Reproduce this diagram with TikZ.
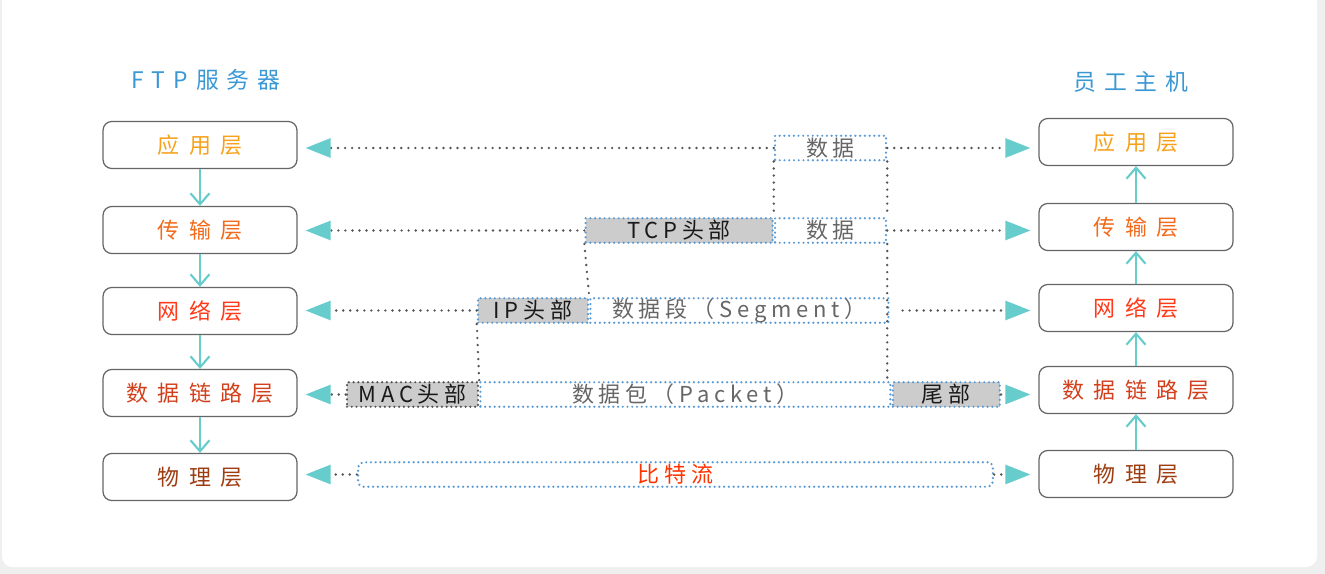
\documentclass[tikz,border=0pt]{standalone}
\usepackage{fontspec}
\usetikzlibrary{arrows.meta}
\newfontfamily\cjk[LetterSpace=42]{Noto Sans CJK SC}
\newfontfamily\cjkttl[LetterSpace=35]{Noto Sans CJK SC}
\newfontfamily\cjkseg[LetterSpace=22]{Noto Sans CJK SC}
\definecolor{bggray}{HTML}{EFEFEF}
\definecolor{boxgray}{HTML}{666666}
\definecolor{tealc}{HTML}{66CCCC}
\definecolor{ttlblue}{HTML}{3A98D5}
\definecolor{segblue}{HTML}{5B9BD5}
\definecolor{dotgray}{HTML}{555555}
\definecolor{hdrgray}{HTML}{CCCCCC}
\definecolor{c1}{HTML}{F7A11A}
\definecolor{c2}{HTML}{F26A1B}
\definecolor{c3}{HTML}{FF3A1A}
\definecolor{c4}{HTML}{D2401B}
\definecolor{c5}{HTML}{9E3D12}
\definecolor{bitred}{HTML}{FF3300}
\tikzset{
  layer/.style={draw=boxgray, line width=0.7pt, rounded corners=5pt, fill=white,
    minimum width=3.88cm, minimum height=0.94cm, inner sep=0pt,
    font=\cjk\fontsize{12.5}{14}\selectfont},
  ttl/.style={text=ttlblue, inner sep=0pt, font=\cjkttl\fontsize{13}{15}\selectfont},
  seg/.style={draw=segblue, line width=1.4pt, line cap=round, dash pattern=on 0pt off 2.7pt,
    fill=white, minimum height=0.49cm, inner sep=0pt, text=black!60,
    font=\cjkseg\fontsize{12.5}{15}\selectfont},
  hdr/.style={seg, fill=hdrgray, text=black!90},
  updown/.style={draw=tealc, line width=1.2pt, -{Straight Barb[length=0.22cm,width=0.38cm]}},
  link/.style={draw=dotgray, line width=1.5pt, line cap=round, dash pattern=on 0pt off 4pt},
  tip/.style={-{Triangle[length=0.5cm,width=0.38cm,color=tealc]}, shorten >=0.16cm}
}
\begin{document}
\begin{tikzpicture}[x=0.02cm,y=-0.02cm]
  \useasboundingbox (0,0) rectangle (1325,574);
  \fill[bggray] (0,0) rectangle (1325,574);
  \fill[white, rounded corners=6pt] (2,-10) rectangle (1317,567);
  \node[ttl] (Lttl) at (206,80) {FTP服务器};
  \node[ttl] (Rttl) at (1131,82) {员工主机};
  \foreach \n/\t/\c/\y in {1/应用层/c1/145, 2/传输层/c2/230, 3/网络层/c3/311,
      4/数据链路层/c4/393, 5/物理层/c5/477} {
    \node[layer, text=\c] (L\n) at (200,\y) {\t};
    \node[layer, text=\c] (R\n) at (1136,{\y-3}) {\t};
  }
  \foreach \a/\b in {1/2, 2/3, 3/4, 4/5} {
    \draw[updown] (L\a) -- (L\b);
    \draw[updown] (R\b) -- (R\a);
  }
  \node[seg, minimum width=2.22cm] (d1) at (830.5,148) {数据};
  \node[seg, minimum width=2.22cm] (d2) at (830.5,230.5) {数据};
  \node[hdr, minimum width=3.74cm, anchor=east] (tcp) at (d2.west) {TCP头部};
  \node[hdr, minimum width=2.2cm] (ip) at (533,310.5) {IP头部};
  \node[seg, minimum width=5.96cm, anchor=west] (sg) at (ip.east) {数据段（Segment）};
  \node[hdr, draw=dotgray, minimum width=2.62cm] (mac) at (412.5,394.5) {MAC头部};
  \node[seg, minimum width=8.2cm, anchor=west] (pk) at (mac.east) {数据包（Packet）};
  \node[hdr, minimum width=2.14cm, anchor=west] (tl) at (pk.east) {尾部};
  \node[seg, rounded corners=3pt, minimum width=12.7cm, text=bitred] (bit) at (675.5,474.5) {比特流};
  \draw[link] (d1.south west) -- (d2.north west);
  \draw[link] (d1.south east) -- (d2.north east);
  \draw[link] (tcp.south west) -- (sg.north west);
  \draw[link] (d2.south east) -- (d2.south east |- tl.north);
  \draw[link] (ip.south west) -- (mac.north east);
  \draw[link, tip] (d1.west) -- (d1.west -| L1.east);
  \draw[link, tip] (d1.east) -- (d1.east -| R1.west);
  \draw[link, tip] (tcp.west) -- (tcp.west -| L2.east);
  \draw[link, tip] (d2.east) -- (d2.east -| R2.west);
  \draw[link, tip] (ip.west) -- (ip.west -| L3.east);
  \draw[link, tip, shorten <=0.26cm] (sg.east) -- (sg.east -| R3.west);
  \draw[link, tip] (mac.west) -- (mac.west -| L4.east);
  \draw[link, tip] (tl.east) -- (tl.east -| R4.west);
  \draw[link, tip] (bit.west) -- (bit.west -| L5.east);
  \draw[link, tip] (bit.east) -- (bit.east -| R5.west);
\end{tikzpicture}
\end{document}
